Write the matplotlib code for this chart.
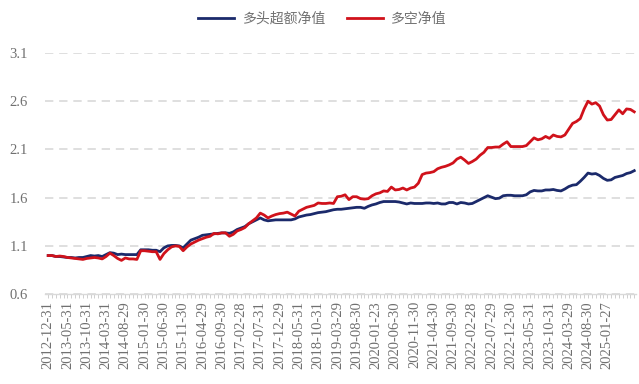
import numpy as np
import matplotlib
matplotlib.use('Agg')
from matplotlib import pyplot as plt

plt.rcParams['font.family'] = ['Liberation Serif', 'Noto Sans CJK SC', 'DejaVu Sans']

# 月度数据：2012-12 至 2025-08，共153个点
tick_labels = ['2012-12-31', '2013-05-31', '2013-10-31', '2014-03-31', '2014-08-29',
               '2015-01-30', '2015-06-30', '2015-11-30', '2016-04-29', '2016-09-30',
               '2017-02-28', '2017-07-31', '2017-12-29', '2018-05-31', '2018-10-31',
               '2019-03-29', '2019-08-30', '2020-01-23', '2020-06-30', '2020-11-30',
               '2021-04-30', '2021-09-30', '2022-02-28', '2022-07-29', '2022-12-30',
               '2023-05-31', '2023-10-31', '2024-03-29', '2024-08-30', '2025-01-27']

# 多头超额净值
long_excess = [1.00, 1.00, 0.99, 0.99, 0.985, 0.98, 0.98, 0.975, 0.98, 0.98,
               0.99, 1.00, 0.995, 1.00, 0.99, 1.01, 1.03, 1.025, 1.01, 1.015,
               1.01, 1.01, 1.01, 1.01, 1.06, 1.06, 1.06, 1.055, 1.055, 1.04,
               1.08, 1.10, 1.105, 1.105, 1.10, 1.08, 1.12, 1.16, 1.175, 1.19,
               1.21, 1.215, 1.22, 1.225, 1.23, 1.235, 1.235, 1.23, 1.245, 1.27,
               1.285, 1.30, 1.33, 1.35, 1.37, 1.39, 1.37, 1.36, 1.365, 1.37,
               1.37, 1.37, 1.37, 1.37, 1.38, 1.40, 1.41, 1.42, 1.425, 1.435,
               1.445, 1.45, 1.455, 1.465, 1.475, 1.48, 1.48, 1.485, 1.49, 1.495,
               1.50, 1.50, 1.49, 1.51, 1.525, 1.535, 1.55, 1.56, 1.56, 1.56,
               1.56, 1.555, 1.545, 1.535, 1.545, 1.54, 1.54, 1.54, 1.545, 1.545,
               1.54, 1.545, 1.535, 1.535, 1.55, 1.55, 1.535, 1.55, 1.545, 1.535,
               1.54, 1.56, 1.58, 1.60, 1.62, 1.605, 1.59, 1.595, 1.62, 1.625,
               1.625, 1.62, 1.62, 1.62, 1.63, 1.66, 1.675, 1.67, 1.67, 1.68,
               1.68, 1.685, 1.675, 1.67, 1.69, 1.715, 1.73, 1.735, 1.77, 1.81,
               1.855, 1.845, 1.85, 1.83, 1.80, 1.78, 1.785, 1.81, 1.82, 1.83,
               1.85, 1.86, 1.88]

# 多空净值
long_short = [1.00, 1.00, 0.99, 0.995, 0.99, 0.98, 0.975, 0.97, 0.965, 0.96,
              0.97, 0.975, 0.98, 0.975, 0.965, 0.99, 1.025, 1.00, 0.97, 0.95,
              0.975, 0.965, 0.965, 0.96, 1.05, 1.05, 1.045, 1.04, 1.04, 0.96,
              1.02, 1.06, 1.09, 1.10, 1.095, 1.05, 1.09, 1.12, 1.14, 1.16,
              1.175, 1.19, 1.20, 1.23, 1.225, 1.235, 1.235, 1.20, 1.22, 1.255,
              1.27, 1.29, 1.33, 1.36, 1.39, 1.44, 1.42, 1.39, 1.41, 1.425,
              1.435, 1.44, 1.45, 1.43, 1.41, 1.46, 1.48, 1.50, 1.51, 1.52,
              1.545, 1.54, 1.54, 1.545, 1.54, 1.61, 1.615, 1.63, 1.58, 1.61,
              1.61, 1.59, 1.585, 1.59, 1.62, 1.64, 1.65, 1.67, 1.665, 1.71,
              1.68, 1.685, 1.70, 1.68, 1.70, 1.71, 1.75, 1.84, 1.855, 1.86,
              1.87, 1.90, 1.915, 1.925, 1.94, 1.96, 2.00, 2.02, 1.99, 1.955,
              1.975, 2.00, 2.04, 2.07, 2.12, 2.12, 2.125, 2.125, 2.155, 2.18,
              2.13, 2.13, 2.13, 2.13, 2.14, 2.18, 2.22, 2.20, 2.21, 2.235,
              2.215, 2.25, 2.235, 2.23, 2.25, 2.31, 2.37, 2.39, 2.42, 2.52,
              2.60, 2.57, 2.585, 2.55, 2.46, 2.405, 2.41, 2.46, 2.51, 2.47,
              2.52, 2.515, 2.49]

x = np.arange(len(long_excess))

fig = plt.figure(figsize=(6.39, 3.84), dpi=100)
ax = fig.add_axes([0.070, 0.234, 0.925, 0.628])

ax.plot(x, long_excess, color='#1B2A6B', lw=2.0, label='多头超额净值', zorder=3)
ax.plot(x, long_short, color='#D0121B', lw=2.0, label='多空净值', zorder=4)

ax.set_ylim(0.6, 3.1)
ax.set_yticks([0.6, 1.1, 1.6, 2.1, 2.6, 3.1])
ax.set_yticklabels(['0.6', '1.1', '1.6', '2.1', '2.6', '3.1'])
ax.set_xlim(-0.9, len(x) - 0.6)

# 横轴：每个月一个刻度，每5个月一个标签
labels = [''] * len(x)
for k, lab in enumerate(tick_labels):
    labels[k * 5] = lab
ax.set_xticks(x)
ax.set_xticklabels(labels, rotation=90)

ax.grid(axis='y', color='#D9D9D9', linestyle=(0, (5, 3.5)), lw=1.2)
ax.set_axisbelow(True)
for s in ['left', 'right', 'top']:
    ax.spines[s].set_visible(False)
ax.spines['bottom'].set_color('#D9D9D9')
ax.spines['bottom'].set_linewidth(1.0)

ax.tick_params(axis='y', length=0, labelsize=10.5, labelcolor='#707070', pad=12)
ax.tick_params(axis='x', length=3, width=0.6, color='#C8C8C8', labelsize=10.5,
               labelcolor='#707070', pad=2)

ax.legend(loc='lower center', bbox_to_anchor=(0.47, 1.06), ncol=2, frameon=False,
          fontsize=10, handlelength=2.6, columnspacing=1.5, handletextpad=0.6,
          labelcolor='#707070')

plt.savefig('out.png', dpi=100)
